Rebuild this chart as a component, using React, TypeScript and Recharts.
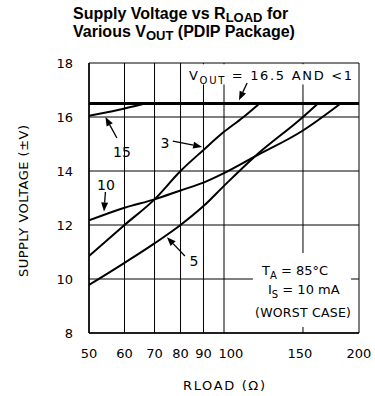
import React from 'react';
import { LineChart, Line, XAxis, YAxis, CartesianGrid, ReferenceLine, ReferenceArea } from 'recharts';

// R_LOAD (ohm) vs supply voltage for each V_OUT curve
const curve15 = [
  { x: 50, y: 16.05 },
  { x: 58, y: 16.26 },
  { x: 66, y: 16.48 },
];
const curve3 = [
  { x: 50, y: 10.85 },
  { x: 60, y: 12.0 },
  { x: 70, y: 12.95 },
  { x: 80, y: 14.0 },
  { x: 90, y: 14.78 },
  { x: 100, y: 15.45 },
  { x: 110, y: 15.97 },
  { x: 120, y: 16.5 },
];
const curve10 = [
  { x: 50, y: 12.17 },
  { x: 60, y: 12.64 },
  { x: 70, y: 12.95 },
  { x: 80, y: 13.28 },
  { x: 90, y: 13.57 },
  { x: 100, y: 13.92 },
  { x: 117, y: 14.53 },
  { x: 150, y: 15.5 },
  { x: 182, y: 16.5 },
];
const curve5 = [
  { x: 50, y: 9.78 },
  { x: 60, y: 10.6 },
  { x: 70, y: 11.32 },
  { x: 80, y: 12.0 },
  { x: 90, y: 12.7 },
  { x: 100, y: 13.45 },
  { x: 117, y: 14.53 },
  { x: 150, y: 16.0 },
  { x: 162, y: 16.5 },
];
const voutLimit = 16.5;

const xTicks = [50, 60, 70, 80, 90, 100, 150, 200];
const yTicks = [8, 10, 12, 14, 16, 18];

// annotation arrows, tail then tip
const arrowVout = [{ x: 112.6, y: 17.26 }, { x: 108, y: 16.62 }];
const arrow15 = [{ x: 57.7, y: 15.22 }, { x: 54.4, y: 16.0 }];
const arrow3 = [{ x: 76.9, y: 15.11 }, { x: 89.4, y: 14.89 }];
const arrow10 = [{ x: 54.4, y: 13.22 }, { x: 54.0, y: 12.5 }];
const arrow5 = [{ x: 81.8, y: 10.85 }, { x: 74.6, y: 11.55 }];

const FONT = '"DejaVu Sans", sans-serif';

const ArrowShape = (p: any) => {
  const { x1, y1, x2, y2 } = p;
  const ang = Math.atan2(y2 - y1, x2 - x1);
  const L = 9;
  const W = 3.5;
  const bx = x2 - L * Math.cos(ang);
  const by = y2 - L * Math.sin(ang);
  const pts = [
    `${x2},${y2}`,
    `${bx + W * Math.sin(ang)},${by - W * Math.cos(ang)}`,
    `${bx - W * Math.sin(ang)},${by + W * Math.cos(ang)}`,
  ].join(' ');
  return (
    <g>
      <line x1={x1} y1={y1} x2={bx} y2={by} stroke="#000" strokeWidth={1.3} />
      <polygon points={pts} fill="#000" />
    </g>
  );
};

const XTick = (props: any) => {
  const { x, y, payload } = props;
  const shift = payload.value === 100 ? 7 : payload.value === 150 ? -3 : 0;
  return (
    <text x={x + shift} y={y} dy="0.71em" textAnchor="middle" fontSize={13} fontFamily={FONT} fill="#000">
      {payload.value}
    </text>
  );
};

export default function App() {
  return (
    <div style={{ position: 'absolute', left: 0, top: 0, width: 375, height: 396, background: '#fff' }}>
      <LineChart width={375} height={396} margin={{ top: 63, right: 16, bottom: 33, left: 59 }}>
        <CartesianGrid stroke="#000" strokeWidth={1} />
        <XAxis
          dataKey="x"
          type="number"
          scale="log"
          domain={[50, 200]}
          ticks={xTicks}
          interval={0}
          allowDataOverflow
          height={30}
          tickSize={0}
          tickMargin={16}
          tick={<XTick />}
          axisLine={{ stroke: '#000', strokeWidth: 1.5 }}
        />
        <YAxis
          type="number"
          domain={[8, 18]}
          ticks={yTicks}
          interval={0}
          width={30}
          tickSize={0}
          tickMargin={16}
          tick={{ fontSize: 13, fontFamily: FONT, fill: '#000' }}
          axisLine={{ stroke: '#000', strokeWidth: 1.5 }}
        />
        <ReferenceArea x1={81.8} x2={198} y1={17.2} y2={17.95} fill="#fff" fillOpacity={1} stroke="none" />
        <ReferenceArea x1={116} x2={192} y1={8.22} y2={10.96} fill="#fff" fillOpacity={1} stroke="none" />
        <ReferenceLine y={voutLimit} stroke="#000" strokeWidth={3} />
        <Line data={curve15} dataKey="y" type="monotone" stroke="#000" strokeWidth={2} dot={false} activeDot={false} isAnimationActive={false} />
        <Line data={curve3} dataKey="y" type="monotone" stroke="#000" strokeWidth={2} dot={false} activeDot={false} isAnimationActive={false} />
        <Line data={curve10} dataKey="y" type="monotone" stroke="#000" strokeWidth={2} dot={false} activeDot={false} isAnimationActive={false} />
        <Line data={curve5} dataKey="y" type="monotone" stroke="#000" strokeWidth={2} dot={false} activeDot={false} isAnimationActive={false} />
        <ReferenceLine segment={arrowVout} shape={ArrowShape} />
        <ReferenceLine segment={arrow15} shape={ArrowShape} />
        <ReferenceLine segment={arrow3} shape={ArrowShape} />
        <ReferenceLine segment={arrow10} shape={ArrowShape} />
        <ReferenceLine segment={arrow5} shape={ArrowShape} />
      </LineChart>

      <svg width={375} height={396} style={{ position: 'absolute', left: 0, top: 0, pointerEvents: 'none' }}>
        <g fontFamily='"Liberation Sans", Arial, sans-serif' fontWeight="bold" fontSize={16} fill="#000">
          <text x={73} y={19}>
            Supply Voltage vs R<tspan fontSize={13} dy={3}>LOAD</tspan>
            <tspan dy={-3}> for</tspan>
          </text>
          <text x={73} y={37}>
            Various V<tspan fontSize={13} dy={3}>OUT</tspan>
            <tspan dy={-3}> (PDIP Package)</tspan>
          </text>
        </g>
        <g fontFamily={FONT} fill="#000">
          <text x={189} y={80} fontSize={13} textLength={163} lengthAdjust="spacing">
            V<tspan fontSize={10} dy={4}>OUT</tspan>
            <tspan dy={-4}> = 16.5 AND &lt;1</tspan>
          </text>
          <text x={262} y={275} fontSize={13}>
            T<tspan fontSize={10} dy={4}>A</tspan>
            <tspan dy={-4}> = 85°C</tspan>
          </text>
          <text x={268} y={294} fontSize={13}>
            I<tspan fontSize={10} dy={4}>S</tspan>
            <tspan dy={-4}> = 10 mA</tspan>
          </text>
          <text x={303} y={317} fontSize={12.5} textAnchor="middle" textLength={96} lengthAdjust="spacing">
            (WORST CASE)
          </text>
          <text x={122} y={157} fontSize={14} textAnchor="middle">15</text>
          <text x={165} y={148} fontSize={14} textAnchor="middle">3</text>
          <text x={106} y={190} fontSize={14} textAnchor="middle">10</text>
          <text x={194} y={266} fontSize={14} textAnchor="middle">5</text>
          <text
            x={28}
            y={201}
            fontSize={13}
            textAnchor="middle"
            transform="rotate(-90, 28, 201)"
            textLength={152}
            lengthAdjust="spacing"
          >
            SUPPLY VOLTAGE (±V)
          </text>
          <text x={224} y={390} fontSize={13} textAnchor="middle" textLength={82} lengthAdjust="spacing">
            RLOAD (Ω)
          </text>
        </g>
      </svg>
    </div>
  );
}
